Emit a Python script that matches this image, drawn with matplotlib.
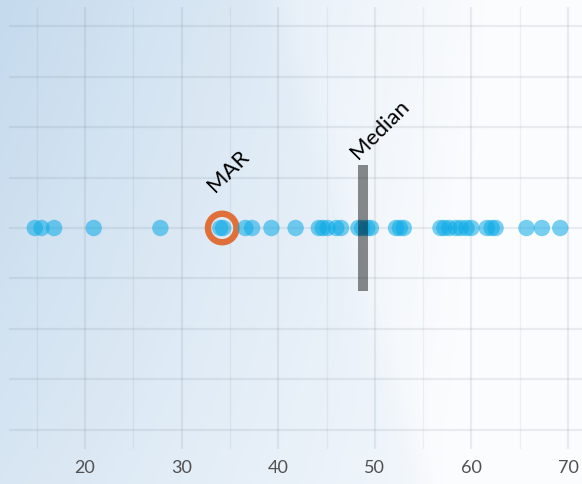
import numpy as np
import matplotlib.pyplot as plt

# values (x axis)
values = [14.8, 15.5, 16.8, 20.9, 27.8, 34.0, 34.3, 36.6, 37.3, 39.3, 41.8,
          44.2, 44.6, 45.1, 46.0, 46.5, 48.3, 48.7, 49.2, 49.6,
          52.2, 52.6, 53.0, 56.8, 57.2, 57.7, 58.4, 58.9, 59.5, 60.0,
          61.6, 62.1, 62.5, 65.7, 67.3, 69.2]
mar_value = 34.2
median_value = 48.8
xticks = [20, 30, 40, 50, 60, 70]
minor_xticks = [15, 25, 35, 45, 55, 65]
yticks = [-4, -3, -2, -1, 0, 1, 2, 3, 4]

W, H = 582, 484
fig = plt.figure(figsize=(W / 100, H / 100), dpi=100)

# background gradient (light blue on the left fading to white)
bg = fig.add_axes([0, 0, 1, 1])
gx, gy = np.meshgrid(np.linspace(0, 1, W), np.linspace(0, 1, H))
d = gx * W - (278 + 0.3 * gy * H)
t = 1.0 * gx + 0.35 * gy * (1 - gx) + 0.15 / (1 + np.exp(-d / 8))
t = np.clip(t, 0, 1)[..., None]
c0 = np.array([0.77, 0.855, 0.93])
c1 = np.array([0.985, 0.99, 0.997])
bg.imshow(c0 * (1 - t) + c1 * t, aspect="auto", extent=[0, 1, 1, 0])
bg.axis("off")

ax = fig.add_axes([9 / W, 35 / H, 1 - 9 / W, 442 / H])
ax.patch.set_alpha(0)
ax.set_xlim(12.13, 71.45)
ax.set_ylim(-4.385, 4.385)
for s in ax.spines.values():
    s.set_visible(False)

gcol = (0.31, 0.376, 0.44)
for x in xticks:
    ax.axvline(x, color=gcol, alpha=0.1, lw=1.6, zorder=1)
for x in minor_xticks:
    ax.axvline(x, color=gcol, alpha=0.08, lw=0.9, zorder=1)
for y in yticks:
    ax.axhline(y, color=gcol, alpha=0.1, lw=1.6, zorder=1)

# MAR ring
ax.scatter([mar_value], [0], s=420, facecolor="none", edgecolor="#e0703a",
           linewidth=4.6, zorder=2)
ax.scatter(values, np.zeros(len(values)), s=140, color="#0aaae6", alpha=0.55,
           edgecolor="none", zorder=3)

# median bar
ax.bar([median_value], [2.5], bottom=-1.25, width=1.035, color="black",
       alpha=0.45, zorder=4)

ax.text(33.5, 0.70, "MAR", rotation=45, rotation_mode="anchor",
        ha="left", va="baseline", fontsize=16, family="Lato", color="black")
ax.text(48.25, 1.34, "Median", rotation=45, rotation_mode="anchor",
        ha="left", va="baseline", fontsize=16, family="Lato", color="black")

ax.set_xticks(xticks)
ax.set_xticklabels([str(x) for x in xticks], family="Lato", fontsize=13,
                   color="#505050")
ax.set_yticks([])
ax.tick_params(axis="x", length=0, pad=8)

fig.savefig("out.png", dpi=100)
